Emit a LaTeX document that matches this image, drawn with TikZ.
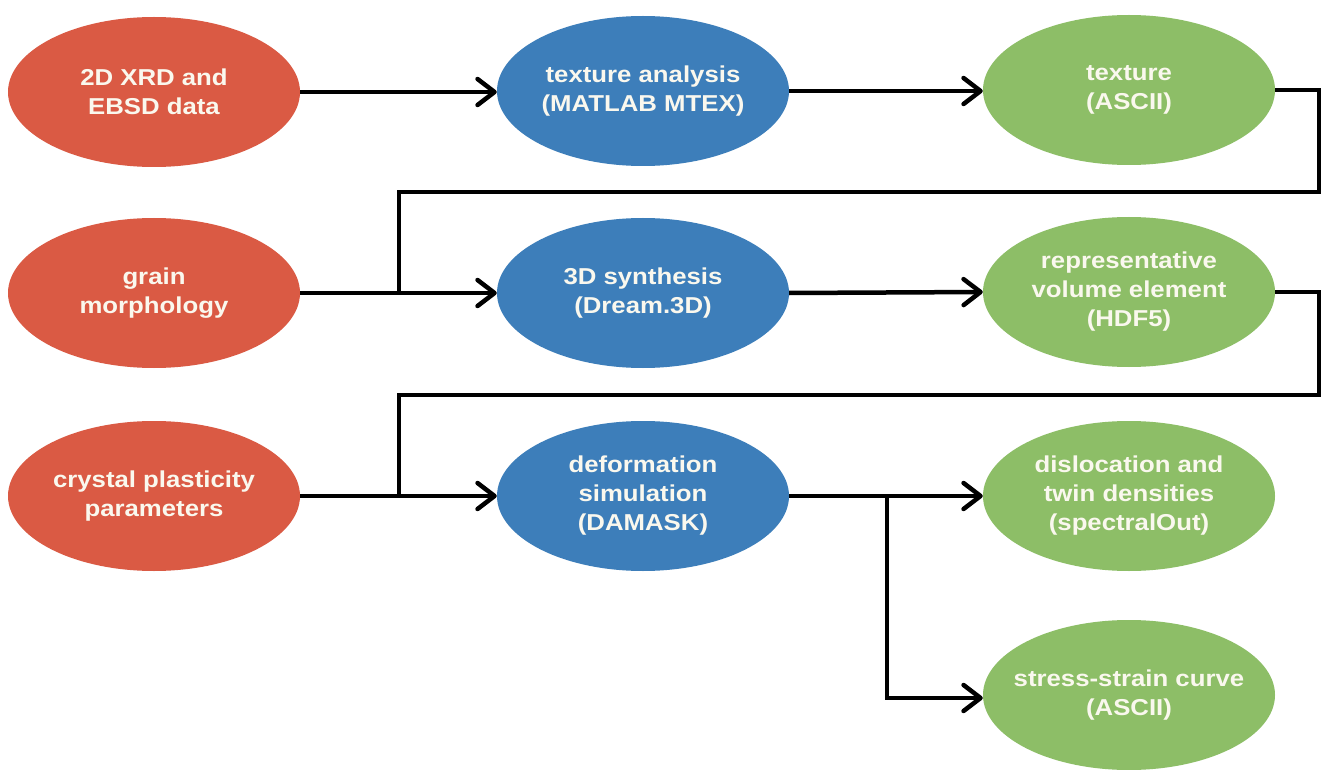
\documentclass[tikz,border=0pt]{standalone}
\usepackage{fontspec}
\newfontfamily\lblfont{Liberation Sans}[FakeStretch=1.12]
\usetikzlibrary{shapes.geometric,arrows.meta}
\definecolor{inred}{RGB}{218,90,68}
\definecolor{procblue}{RGB}{61,126,186}
\definecolor{outgreen}{RGB}{141,190,103}
\definecolor{lbltext}{RGB}{250,248,238}
\tikzset{
  oval/.style={ellipse, minimum width=292pt, minimum height=150pt,
    inner xsep=-40pt, inner ysep=-12pt,
    align=center, text=lbltext, font=\lblfont\bfseries\fontsize{23}{29}\selectfont,
    % a tall strut on the first line sets the text a little below the centre
    execute at begin node={\rule{0pt}{27pt}}},
  inputnode/.style={oval, fill=inred},
  procnode/.style={oval, fill=procblue},
  outnode/.style={oval, fill=outgreen},
  link/.style={draw=black, line width=4.5pt, line join=miter},
  arrowlink/.style={link, -{Straight Barb[length=17pt,width=26pt,line cap=round,line join=round]}}
}
\begin{document}
\begin{tikzpicture}[x=1pt,y=-1pt]
\useasboundingbox (0,0) rectangle (1323,770);
\fill[white] (0,0) rectangle (1323,770);

% inputs
\node[inputnode] (xrd)   at (154,92)  {2D XRD and\\EBSD data};
\node[inputnode] (grain) at (154,293) {grain\\morphology};
\node[inputnode] (cp)    at (154,496) {crystal plasticity\\parameters};

% processing steps
\node[procnode] (mtex)  at (643,91)  {texture analysis\\(MATLAB MTEX)};
\node[procnode] (dream) at (643,293) {3D synthesis\\(Dream.3D)};
\node[procnode] (damask) at (643,496) {deformation\\simulation\\(DAMASK)};

% outputs
\node[outnode] (tex)  at (1129,90)  {texture\\(ASCII)};
\node[outnode] (rve)  at (1129,292) {representative\\volume element\\(HDF5)};
\node[outnode] (dens) at (1129,496) {dislocation and\\twin densities\\(spectralOut)};
\node[outnode] (ss)   at (1129,695) {stress-strain curve\\(ASCII)};

% routing points
\coordinate (turnA) at (1319,192);
\coordinate (joinA) at (399,293);
\coordinate (turnB) at (1319,395);
\coordinate (joinB) at (399,496);
\coordinate (split) at (887,496);

% first row
\draw[arrowlink] (xrd.east) -- (mtex.west |- xrd.east);
\draw[arrowlink] (mtex.east) -- (tex.west |- mtex.east);

% texture fed back into the synthesis
\draw[link] (tex.east) -| (turnA) -| (joinA);
\draw[arrowlink] (grain.east) -- (dream.west);
\draw[arrowlink] (dream.east) -- (rve.west);

% volume element fed into the simulation
\draw[link] (rve.east) -| (turnB) -| (joinB);
\draw[arrowlink] (cp.east) -- (damask.west);
\draw[arrowlink] (damask.east) -- (dens.west);
\draw[arrowlink] (split) |- (ss.west |- 0,698);
\end{tikzpicture}
\end{document}
